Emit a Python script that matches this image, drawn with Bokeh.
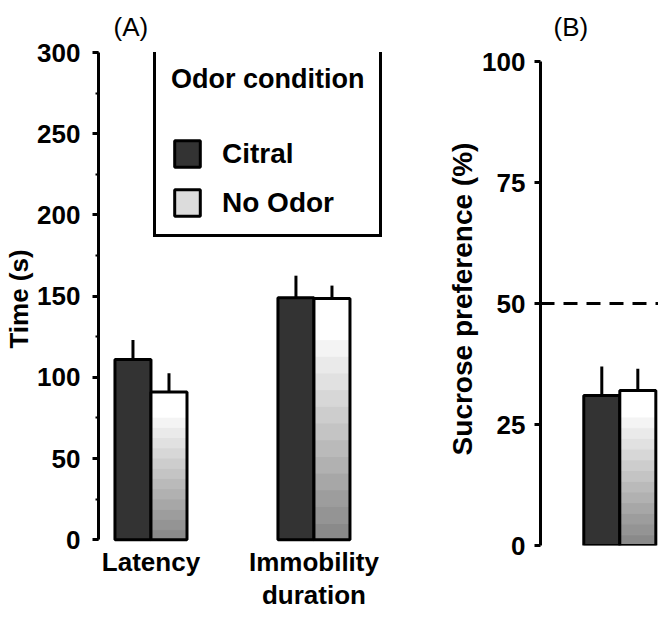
import numpy as np
from bokeh.plotting import figure
from bokeh.models import (Range1d, SingleIntervalTicker, FixedTicker, Span, Legend,
                          LegendItem, ColumnDataSource)
from bokeh.layouts import row
from bokeh.embed import file_html
from bokeh.resources import INLINE

FONT = "Liberation Sans"

# ---------------- data ----------------
measures = ["Latency", "Immobility\nduration"]
conditions = ["Citral", "No Odor"]
citral_time = [111, 149]
citral_time_sem = [12, 13.6]
noodor_time = [91, 148.5]
noodor_time_sem = [11.5, 8]

sucrose_citral = [31]
sucrose_citral_sem = [6]
sucrose_noodor = [32]
sucrose_noodor_sem = [4.5]
chance_level = 50

# ---------------- style ----------------
CITRAL_COLOR = "#333333"
BW = 0.221          # width of one bar (group spacing = 1)
N_BANDS = 12
WHITE_FRAC = 0.17
TOP_BORDER = 52
BOTTOM_BORDER = 67
H = 612


def grey(v):
    v = int(round(v))
    return "#%02x%02x%02x" % (v, v, v)


def gradient_source(xs, vals):
    left, right, bottom, top, color = [], [], [], [], []
    shades = np.linspace(0x8A, 0xF4, N_BANDS)
    for x, v in zip(xs, vals):
        h = v * (1 - WHITE_FRAC)
        for i in range(N_BANDS):
            left.append(x); right.append(x + BW)
            bottom.append(h * i / N_BANDS); top.append(h * (i + 1) / N_BANDS)
            color.append(grey(shades[i]))
        left.append(x); right.append(x + BW)
        bottom.append(h); top.append(v); color.append("#ffffff")
    return ColumnDataSource(dict(left=left, right=right, bottom=bottom, top=top, color=color))


def style_fig(p):
    p.xgrid.visible = False
    p.ygrid.visible = False
    p.outline_line_color = None
    p.background_fill_color = "white"
    p.border_fill_color = "white"


def style_title(p, text, offset):
    p.title.text = text
    p.title.align = "left"
    p.title.vertical_align = "top"
    p.title.offset = offset
    p.title.standoff = 18
    p.title.text_font = FONT
    p.title.text_font_size = "26px"
    p.title.text_font_style = "normal"
    p.title.text_color = "black"


def style_yaxis(ax, standoff):
    ax.axis_line_width = 3
    ax.axis_line_color = "black"
    ax.major_tick_line_width = 3
    ax.major_tick_out = 6
    ax.major_tick_in = 0
    ax.minor_tick_line_width = 2
    ax.minor_tick_out = 3
    ax.minor_tick_in = 0
    ax.major_label_text_font = FONT
    ax.major_label_text_font_size = "26px"
    ax.major_label_text_font_style = "bold"
    ax.major_label_text_color = "black"
    ax.major_label_standoff = standoff
    ax.axis_label_text_font = FONT
    ax.axis_label_text_font_style = "bold"
    ax.axis_label_text_color = "black"


def draw_bars(p, xs, cit, cit_sem, noo, noo_sem):
    cit_src = ColumnDataSource(dict(left=[x - BW for x in xs], right=list(xs),
                                    top=cit, bottom=[0] * len(xs)))
    r_cit = p.quad(left="left", right="right", top="top", bottom="bottom", source=cit_src,
                   fill_color=CITRAL_COLOR, line_color="black", line_width=3)
    g_src = gradient_source(xs, noo)
    p.quad(left="left", right="right", top="top", bottom="bottom", source=g_src,
           fill_color="color", line_color="color", line_width=1)
    noo_src = ColumnDataSource(dict(left=list(xs), right=[x + BW for x in xs],
                                    top=noo, bottom=[0] * len(xs)))
    p.quad(left="left", right="right", top="top", bottom="bottom", source=noo_src,
           fill_color=None, line_color="black", line_width=3)
    ex = [x - BW / 2 for x in xs] + [x + BW / 2 for x in xs]
    ey0 = list(cit) + list(noo)
    ey1 = [v + e for v, e in zip(cit, cit_sem)] + [v + e for v, e in zip(noo, noo_sem)]
    p.segment(x0=ex, y0=ey0, x1=ex, y1=ey1, line_color="black", line_width=3)
    return r_cit


# ---------------- panel A ----------------
xs_a = [i + 1 for i in range(len(measures))]
pa = figure(width=400, height=H, x_range=Range1d(0.678, 2.531), y_range=Range1d(-3.5, 300),
            output_backend="svg", toolbar_location=None,
            min_border_left=98, min_border_right=0,
            min_border_top=TOP_BORDER, min_border_bottom=BOTTOM_BORDER)
style_fig(pa)
style_title(pa, "(A)", 15)

ya = pa.yaxis[0]
ya.ticker = SingleIntervalTicker(interval=50, num_minor_ticks=2)
ya.bounds = (0, 300)
style_yaxis(ya, 12)
ya.axis_label = "Time (s)"
ya.axis_label_standoff = 0
ya.axis_label_text_font_size = "26px"

xa = pa.xaxis[0]
xa.ticker = FixedTicker(ticks=xs_a)
xa.major_label_overrides = {x: m for x, m in zip(xs_a, measures)}
xa.axis_line_color = None
xa.major_tick_line_color = None
xa.minor_tick_line_color = None
xa.major_tick_out = 0
xa.major_label_standoff = 1
xa.major_label_text_font = FONT
xa.major_label_text_font_size = "26px"
xa.major_label_text_font_style = "bold"
xa.major_label_text_line_height = 1.1
xa.major_label_text_color = "black"

r_cit = draw_bars(pa, xs_a, citral_time, citral_time_sem, noodor_time, noodor_time_sem)
r_proxy = pa.quad(left=[np.nan], right=[np.nan], top=[np.nan], bottom=[np.nan],
                  fill_color="#dcdcdc", line_color="black", line_width=3)

legend = Legend(items=[LegendItem(label=conditions[0], renderers=[r_cit]),
                       LegendItem(label=conditions[1], renderers=[r_proxy])],
                location=(55, 308), title="Odor condition",
                title_text_font=FONT, title_text_font_size="27px", title_text_font_style="bold",
                title_text_color="black", title_standoff=42,
                label_text_font=FONT, label_text_font_size="28px", label_text_font_style="bold",
                label_text_color="black",
                glyph_width=32, glyph_height=33, label_standoff=19, spacing=16,
                padding=15, margin=0, border_line_color="black", border_line_width=3,
                border_line_alpha=1.0,
                background_fill_color="white", background_fill_alpha=1.0)
pa.add_layout(legend)

# ---------------- panel B ----------------
xs_b = [1]
pb = figure(width=258, height=H, x_range=Range1d(0.5135, 1.2374), y_range=Range1d(0, 101.86),
            output_backend="svg", toolbar_location=None,
            min_border_left=140, min_border_right=0,
            min_border_top=TOP_BORDER, min_border_bottom=BOTTOM_BORDER)
style_fig(pb)
style_title(pb, "(B)", 13)

yb = pb.yaxis[0]
yb.ticker = SingleIntervalTicker(interval=25, num_minor_ticks=0)
yb.bounds = (0, 100)
style_yaxis(yb, 9)
yb.axis_label = "Sucrose preference (%)"
yb.axis_label_standoff = 1
yb.axis_label_text_font_size = "28px"
pb.xaxis.visible = False

pb.add_layout(Span(location=chance_level, dimension="width", line_color="black",
                   line_width=3, line_dash="14 9"))
draw_bars(pb, xs_b, sucrose_citral, sucrose_citral_sem, sucrose_noodor, sucrose_noodor_sem)

layout = row(pa, pb)
open("out.html", "w").write(file_html(layout, INLINE))
